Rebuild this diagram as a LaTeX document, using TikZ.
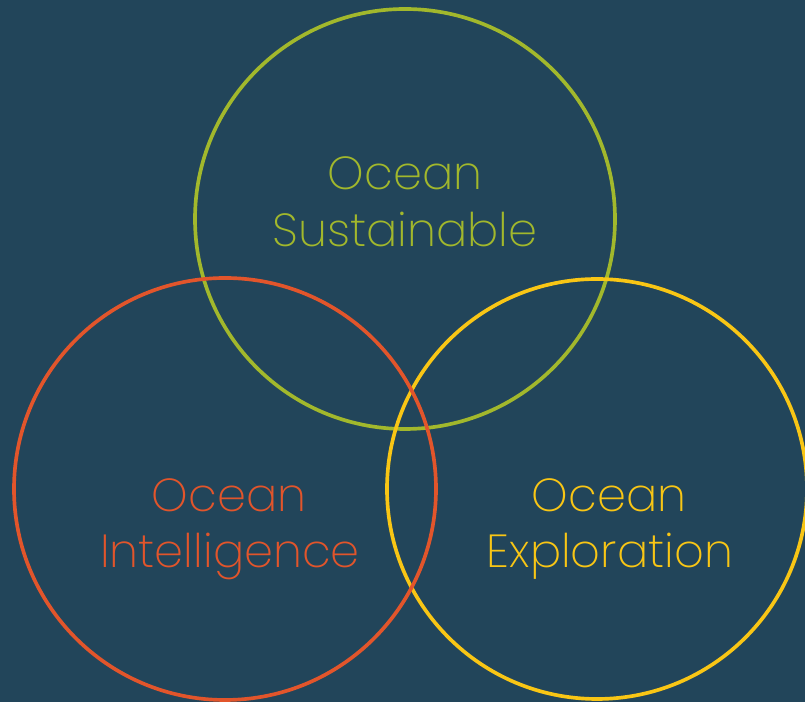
\documentclass[tikz,border=0pt]{standalone}
\usepackage{fontspec}
\setmainfont{Poppins ExtraLight}
\definecolor{deepsea}{HTML}{22455A}
\definecolor{kelp}{HTML}{A2B82C}
\definecolor{coral}{HTML}{E2552B}
\definecolor{sunlit}{HTML}{F9C615}

\begin{document}
\begin{tikzpicture}[x=0.025cm,y=0.025cm,
  ring/.style={line width=2.6pt},
  word/.style={anchor=base,inner sep=0pt,font=\fontsize{33}{35}\selectfont}]
  % background
  \fill[deepsea] (0,0) rectangle (805,702);
  \useasboundingbox (0,0) rectangle (805,702);
  % circles
  \draw[ring,kelp]   (405,483) circle (210);
  \draw[ring,sunlit] (597,213) circle (210);
  \draw[ring,coral]  (225,213) circle (211);
  % labels
  \node[word,text=kelp] (sustA) at (405,512) {Ocean};
  \node[word,text=kelp] (sustB) at (405,455) {Sustainable};
  \node[word,text=coral] (intA) at (229,190) {Ocean};
  \node[word,text=coral] (intB) at (230,134) {Intelligence};
  \node[word,text=sunlit] (expA) at (609,190) {Ocean};
  \node[word,text=sunlit] (expB) at (610,134) {Exploration};
\end{tikzpicture}
\end{document}
